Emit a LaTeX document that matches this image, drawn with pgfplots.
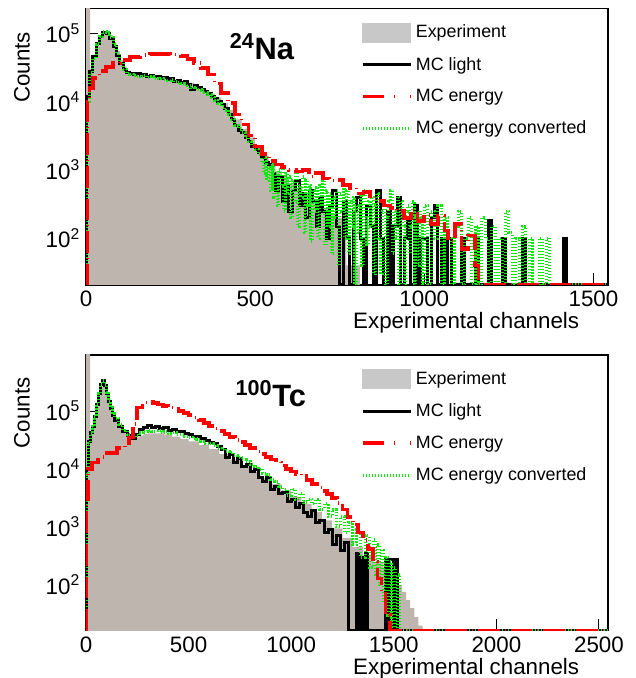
\documentclass[border=0pt]{standalone}
\usepackage{fontspec}
\setmainfont{Liberation Sans}
\usepackage{pgfplots}
\usepackage{pgfplotstable}
\pgfplotsset{compat=1.18}
\definecolor{expfill}{RGB}{190,182,174}
\definecolor{leggray}{RGB}{200,200,200}
\definecolor{mcgreen}{RGB}{10,235,10}
\definecolor{mcred}{RGB}{255,0,0}

% ---------------- 24Na ----------------
\pgfplotstableread{
x y
0 1
0 4e5
12 3e4
20 4.5e4
30 6.5e4
40 8.5e4
50 1.0e5
60 1.05e5
70 9.5e4
80 7.5e4
90 5.5e4
100 4.0e4
110 3.2e4
120 2.8e4
130 2.6e4
140 2.5e4
160 2.45e4
180 2.4e4
200 2.3e4
220 2.25e4
240 2.15e4
260 2.1e4
280 2.0e4
300 1.9e4
320 1.7e4
340 1.5e4
360 1.3e4
380 1.15e4
400 9.5e3
420 7.5e3
440 5.5e3
460 4e3
480 3e3
500 2.2e3
520 1.6e3
540 1.2e3
560 950
580 800
600 650
620 550
640 450
660 380
680 320
700 270
720 230
740 200
760 170
770 40
810 40
810 1
}\expNa

\pgfplotstableread{
x y
0 21
2 1.2e4
10 2.8e4
20 4.5e4
30 7e4
40 9e4
50 1.02e5
60 1e5
70 8.5e4
80 6.5e4
90 4.8e4
100 3.6e4
110 3e4
120 2.7e4
130 2.6e4
140 2.5e4
150 2.6e4
160 2.4e4
170 2.5e4
180 2.35e4
190 2.4e4
200 2.3e4
210 2.35e4
220 2.2e4
230 2.25e4
240 2.1e4
250 2.15e4
260 2.0e4
270 2.05e4
280 1.9e4
290 1.95e4
300 1.8e4
310 1.5e4
320 1.75e4
330 1.6e4
340 1.5e4
350 1.4e4
360 1.3e4
370 1.2e4
380 1.1e4
390 1.0e4
400 9e3
410 8e3
420 6.5e3
430 5.5e3
440 4.5e3
450 3.8e3
460 3.5e3
470 3e3
480 2.6e3
490 2.2e3
500 2e3
510 1.8e3
520 1.5e3
530 1.3e3
540 1200
550 900
560 500
570 800
580 350
590 600
600 250
610 500
620 700
630 300
640 450
650 200
660 500
670 350
680 150
690 400
700 250
710 100
720 300
730 500
740 150
750 21
760 350
770 100
780 21
790 250
800 400
810 100
820 21
830 300
840 150
850 21
860 500
870 100
880 21
890 250
900 21
910 150
920 400
930 21
940 100
950 200
960 21
970 300
980 21
990 100
1000 100
1010 21
1020 200
1030 300
1040 21
1050 100
1060 21
1070 100
1080 21
1110 100
1120 21
1150 100
1160 21
1190 180
1200 21
1230 100
1240 21
1290 100
1300 21
1410 100
1420 21
1543 21
}\lightNa

\pgfplotstableread{
x y
0 21
2 1e4
10 2.6e4
20 4.3e4
30 6.8e4
40 9e4
50 1.05e5
60 1.02e5
70 8.8e4
80 6.8e4
90 5e4
100 3.7e4
110 3e4
120 2.6e4
130 2.5e4
140 2.4e4
150 2.35e4
160 2.3e4
170 2.4e4
180 2.25e4
190 2.3e4
200 2.2e4
210 2.15e4
220 2.2e4
230 2.1e4
240 2.05e4
250 2.1e4
260 1.95e4
270 1.9e4
280 1.85e4
290 1.8e4
300 1.7e4
310 1.6e4
320 1.55e4
330 1.5e4
340 1.45e4
350 1.35e4
360 1.25e4
370 1.15e4
380 1.05e4
390 9.5e3
400 8.5e3
410 7.5e3
420 6.5e3
430 5.5e3
440 4.5e3
450 4e3
460 3.5e3
470 3e3
480 2.6e3
490 2.3e3
500 2e3
510 1.7e3
520 1300
525 900
530 1600
535 700
540 1100
545 500
550 1300
555 400
560 900
565 300
570 1000
575 600
580 1200
585 250
590 900
595 450
600 800
605 200
610 700
615 350
620 900
625 150
630 600
635 400
640 800
645 120
650 700
655 300
660 600
665 90
670 500
675 250
680 550
685 100
690 600
695 300
700 700
705 80
710 500
715 150
720 450
725 60
730 400
735 200
740 500
745 40
750 450
755 250
760 600
765 100
770 500
775 60
780 350
785 150
790 400
795 21
800 300
805 120
810 450
815 40
820 500
825 200
830 80
835 350
840 150
845 400
850 30
855 300
860 450
865 100
870 30
875 250
880 300
885 21
890 200
895 350
900 500
905 60
910 250
915 100
920 400
925 21
930 350
935 150
940 21
945 250
950 300
955 60
960 150
965 350
970 21
975 200
980 40
985 250
990 200
995 21
1000 300
1010 21
1020 250
1030 100
1040 300
1050 21
1060 200
1070 100
1080 21
1090 150
1100 250
1110 21
1120 100
1130 200
1140 21
1150 150
1160 21
1170 200
1180 100
1190 21
1200 150
1210 21
1220 100
1230 21
1240 250
1250 120
1260 21
1270 100
1280 21
1290 150
1300 21
1310 100
1320 21
1340 100
1350 21
1360 100
1370 21
1543 21
}\convNa

\pgfplotstableread{
x y
0 21
3 1e4
10 1.6e4
20 2.2e4
40 2.8e4
60 3.2e4
80 3.7e4
100 4.1e4
130 4.5e4
160 4.8e4
190 5e4
220 5e4
250 4.9e4
280 4.6e4
300 4.2e4
320 3.7e4
340 3.1e4
360 2.5e4
380 1.85e4
400 1.35e4
420 9.5e3
440 6.5e3
460 4.6e3
480 3.2e3
500 2.2e3
520 1.7e3
540 1.35e3
560 1.2e3
580 1.1e3
600 1e3
620 950
640 1e3
660 800
680 900
700 750
720 700
740 720
760 600
780 550
800 450
820 480
840 380
860 350
880 300
900 280
920 250
940 200
960 260
980 180
1000 220
1020 160
1040 210
1060 130
1070 90
1090 160
1110 70
1130 110
1150 40
1160 21
1543 21
}\enNa

% ---------------- 100Tc ----------------
\pgfplotstableread{
x y
0 1
0 2e6
20 3e4
30 5.5e4
40 7.5e4
50 1.15e5
60 1.8e5
70 2.6e5
80 3.3e5
90 2.9e5
100 2.1e5
110 1.5e5
120 1.15e5
130 9e4
140 7.5e4
160 5.8e4
180 4.6e4
200 3.8e4
220 3.4e4
240 3.5e4
260 3.8e4
280 4e4
300 4.1e4
340 4.1e4
380 3.9e4
420 3.6e4
460 3.3e4
500 3e4
550 2.6e4
600 2.2e4
650 1.8e4
700 1.45e4
750 1.15e4
800 9e3
850 7e3
900 5.5e3
950 4.3e3
1000 3.3e3
1050 2.5e3
1100 1.8e3
1150 1.3e3
1200 950
1250 650
1300 450
1350 320
1400 250
1450 200
1500 130
1520 100
1540 75
1560 55
1580 40
1600 28
1620 20
1640 1
}\expTc

\pgfplotstableread{
x y
0 16.5
3 1e4
10 3e4
20 4.2e4
30 5.5e4
40 8e4
50 1.3e5
60 2e5
70 2.9e5
80 3.4e5
90 2.8e5
100 2e5
110 1.45e5
120 1.1e5
130 8.5e4
140 7e4
160 5.5e4
180 4.4e4
200 3.8e4
220 3.4e4
240 4e4
260 4.8e4
280 5.2e4
300 5.6e4
320 5.2e4
340 5.4e4
360 5e4
380 5.1e4
400 4.7e4
420 4.8e4
440 4.4e4
460 4.5e4
480 4.1e4
500 4.0e4
520 3.7e4
540 3.6e4
560 3.3e4
580 3.1e4
600 2.9e4
620 2.7e4
640 2.4e4
660 2.2e4
680 1.6e4
700 1.8e4
720 1.3e4
740 1.5e4
760 1.1e4
780 1.2e4
800 9e3
820 1e4
840 7e3
860 6e3
880 7e3
900 4.5e3
920 5e3
940 3.8e3
960 4e3
980 2.8e3
1000 3e3
1020 2.2e3
1040 2.5e3
1060 1.8e3
1080 1.5e3
1100 1.9e3
1120 1.2e3
1140 1.3e3
1160 800
1180 900
1200 500
1220 700
1240 400
1260 550
1280 16.5
1320 350
1330 16.5
1340 300
1350 16.5
1360 350
1370 16.5
1460 270
1470 16.5
1480 270
1500 16.5
1505 270
1520 16.5
2544 16.5
}\lightTc

\pgfplotstableread{
x y
0 16.5
3 8e3
10 2.8e4
20 4e4
30 5.5e4
40 8e4
50 1.3e5
60 2e5
70 2.9e5
80 3.4e5
90 2.9e5
100 2.1e5
110 1.5e5
120 1.15e5
130 9e4
140 7.5e4
160 5.8e4
180 4.6e4
200 3.9e4
220 3.5e4
240 3.8e4
260 4.3e4
280 4.5e4
300 4.7e4
320 4.5e4
340 4.6e4
360 4.3e4
380 4.4e4
400 4.1e4
420 4.2e4
440 3.9e4
460 3.9e4
480 3.6e4
500 3.5e4
520 3.3e4
540 3.2e4
560 3e4
580 2.8e4
600 2.7e4
620 2.5e4
640 2.3e4
660 2.2e4
680 2e4
700 1.9e4
720 1.7e4
740 1.6e4
760 1.45e4
780 1.35e4
800 1.2e4
820 1.1e4
840 1e4
860 8.5e3
880 8e3
900 6.5e3
920 6e3
940 5e3
960 4.5e3
980 3.5e3
1000 4.5e3
1020 3e3
1040 3.8e3
1060 2.6e3
1080 3e3
1100 2.5e3
1120 3e3
1140 2e3
1160 2.5e3
1180 1.5e3
1200 2e3
1220 1e3
1240 1.5e3
1260 800
1280 1.2e3
1300 500
1320 900
1340 300
1360 700
1380 200
1400 600
1410 150
1420 500
1430 100
1440 400
1450 50
1460 300
1470 30
1480 250
1490 16.5
1500 200
1510 16.5
1520 150
1530 16.5
2544 16.5
}\convTc

\pgfplotstableread{
x y
0 16.5
3 3e3
10 1e4
30 1.3e4
60 1.6e4
100 1.9e4
150 2.3e4
190 2.8e4
210 3.5e4
230 6e4
250 1.15e5
275 1.4e5
300 1.45e5
325 1.38e5
350 1.3e5
375 1.22e5
400 1.15e5
425 1.08e5
450 1e5
475 9.2e4
500 8.5e4
525 7.7e4
550 7e4
575 6.2e4
600 5.5e4
625 5e4
650 4.5e4
675 4e4
700 3.6e4
725 3.2e4
750 2.9e4
775 2.6e4
800 2.3e4
825 2e4
850 1.8e4
875 1.6e4
900 1.45e4
925 1.3e4
950 1.15e4
975 1e4
1000 9e3
1025 8.2e3
1050 7.5e3
1075 6.5e3
1100 5.5e3
1125 4.8e3
1150 4.2e3
1175 3.7e3
1200 3.2e3
1225 2.6e3
1250 2e3
1275 1.5e3
1300 1.1e3
1325 800
1350 600
1375 420
1400 250
1420 130
1440 70
1460 30
1480 16.5
2544 16.5
}\enTc

\tikzset{
  expstyle/.style={fill=expfill, draw=none, const plot},
  lightstyle/.style={black, line width=1.8pt, const plot},
  convstyle/.style={mcgreen, line width=1.8pt, dash pattern=on 0.7pt off 1.1pt, const plot},
  enstyle/.style={mcred, line width=2.2pt, dash pattern=on 13pt off 3pt on 0.6pt off 3pt, const plot},
}

\begin{document}
\begin{tikzpicture}
\useasboundingbox (0,0) rectangle (381pt,406.8pt);

\begin{axis}[
  scale only axis, width=313.2pt, height=166pt,
  at={(51.6pt,235.8pt)}, anchor=south west,
  ymode=log, log basis y=10,
  xmin=0, xmax=1543, ymin=20.7, ymax=2.32e5,
  xtick={0,500,1000,1500},
  ytick={100,1000,10000,100000},
  xtick pos=left, ytick pos=left,
  tick align=inside,
  major tick length=7pt, minor tick length=3.5pt,
  axis line style={line width=0.7pt},
  tick style={line width=0.6pt, black},
  /pgf/number format/assume math mode=true,
  /pgf/number format/1000 sep={},
  yticklabel={10\textsuperscript{\pgfmathparse{int(round(\tick))}\pgfmathresult}},
  tick label style={font=\fontsize{13.4}{16}\selectfont},
  xlabel={Experimental channels}, ylabel={Counts},
  every axis label/.append style={font=\fontsize{13.4}{16}\selectfont},
  ylabel style={at={(rel axis cs:-0.1226,0.787)}, anchor=center},
  xlabel style={at={(rel axis cs:0.956,-0.135)}, anchor=east},
  legend cell align=left,
  legend image code/.code={\draw[#1] (0pt,0pt) -- (28.8pt,0pt);},
  legend style={draw=none, fill=none, anchor=north west,
      at={(rel axis cs:0.526,0.953)},
      font=\fontsize{10.7}{12.8}\selectfont, row sep=6pt, inner sep=0pt},
]
\addplot[expstyle, forget plot] table[x=x,y=y] {\expNa};
\addplot[lightstyle, forget plot] table[x=x,y=y] {\lightNa};
\addplot[convstyle, forget plot] table[x=x,y=y] {\convNa};
\addplot[enstyle, forget plot] table[x=x,y=y] {\enNa};
\addlegendimage{legend image code/.code={\fill[leggray] (0pt,-5.7pt) rectangle (28.8pt,5.7pt);}}
\addlegendentry{Experiment}
\addlegendimage{black, line width=1.8pt}
\addlegendentry{MC light}
\addlegendimage{mcred, line width=2.2pt, dash pattern=on 13pt off 6pt on 0.6pt off 9pt}
\addlegendentry{MC energy}
\addlegendimage{mcgreen, line width=1.8pt, dash pattern=on 0.7pt off 1.1pt}
\addlegendentry{MC energy converted}
\node[font=\fontsize{18.5}{22}\selectfont\bfseries] at (rel axis cs:0.337,0.862) {\textsuperscript{24}Na};
\end{axis}

\begin{axis}[
  scale only axis, width=313.2pt, height=165.4pt,
  at={(51.6pt,28.4pt)}, anchor=south west,
  ymode=log, log basis y=10,
  xmin=0, xmax=2544, ymin=16.3, ymax=9.25e5,
  xtick={0,500,1000,1500,2000,2500},
  ytick={100,1000,10000,100000},
  xtick pos=left, ytick pos=left,
  tick align=inside,
  major tick length=7pt, minor tick length=3.5pt,
  axis line style={line width=0.7pt},
  tick style={line width=0.6pt, black},
  /pgf/number format/assume math mode=true,
  /pgf/number format/1000 sep={},
  yticklabel={10\textsuperscript{\pgfmathparse{int(round(\tick))}\pgfmathresult}},
  tick label style={font=\fontsize{13.4}{16}\selectfont},
  xlabel={Experimental channels}, ylabel={Counts},
  every axis label/.append style={font=\fontsize{13.4}{16}\selectfont},
  ylabel style={at={(rel axis cs:-0.1226,0.79)}, anchor=center},
  xlabel style={at={(rel axis cs:0.956,-0.137)}, anchor=east},
  legend cell align=left,
  legend image code/.code={\draw[#1] (0pt,0pt) -- (28.8pt,0pt);},
  legend style={draw=none, fill=none, anchor=north west,
      at={(rel axis cs:0.526,0.953)},
      font=\fontsize{10.7}{12.8}\selectfont, row sep=6pt, inner sep=0pt},
]
\addplot[expstyle, forget plot] table[x=x,y=y] {\expTc};
\addplot[lightstyle, forget plot] table[x=x,y=y] {\lightTc};
\addplot[convstyle, forget plot] table[x=x,y=y] {\convTc};
\addplot[enstyle, forget plot] table[x=x,y=y] {\enTc};
\addlegendimage{legend image code/.code={\fill[leggray] (0pt,-5.7pt) rectangle (28.8pt,5.7pt);}}
\addlegendentry{Experiment}
\addlegendimage{black, line width=1.8pt}
\addlegendentry{MC light}
\addlegendimage{mcred, line width=2.2pt, dash pattern=on 13pt off 6pt on 0.6pt off 9pt}
\addlegendentry{MC energy}
\addlegendimage{mcgreen, line width=1.8pt, dash pattern=on 0.7pt off 1.1pt}
\addlegendentry{MC energy converted}
\node[font=\fontsize{18.5}{22}\selectfont\bfseries] at (rel axis cs:0.354,0.86) {\textsuperscript{100}Tc};
\end{axis}
\end{tikzpicture}
\end{document}
